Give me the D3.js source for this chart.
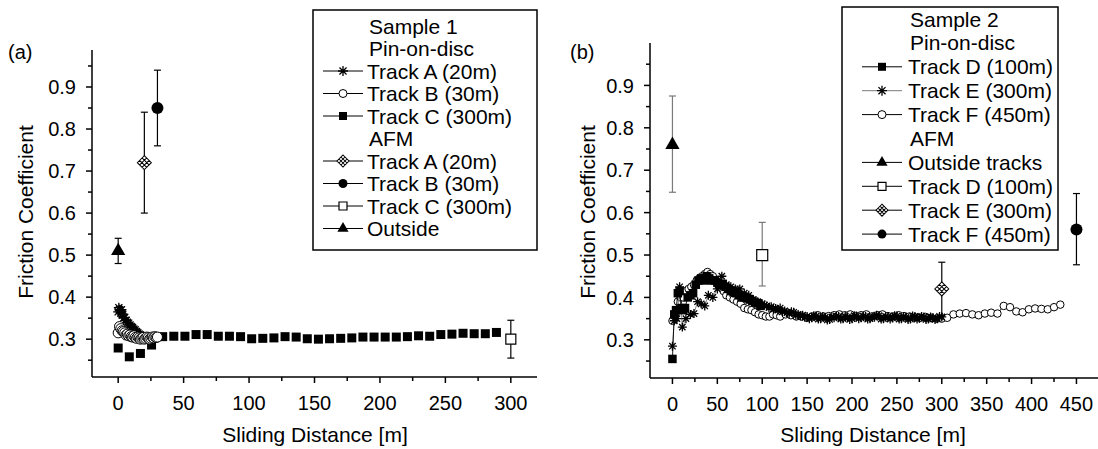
<!DOCTYPE html>
<html>
<head>
<meta charset="utf-8">
<script src="https://cdn.jsdelivr.net/npm/d3@7"></script>
<style>
  body { margin: 0; background: #fff; }
  svg { display: block; font-family: "Liberation Sans", Arial, Helvetica, sans-serif; }
  .axis path, .axis line { stroke: #000; stroke-width: 1.5; }
</style>
</head>
<body>
<svg id="chart" width="1098" height="449"></svg>
<script>
"use strict"

// ---- panel (a): sample 1 ----
const a_trackC_x = [0, 8.5, 17, 25.5, 34, 42.5, 51, 59.5, 68, 76.5, 85, 93.5, 102, 110.5, 119, 127.5, 136, 144.5, 153, 161.5, 170, 178.5, 187, 195.5, 204, 212.5, 221, 229.5, 238, 246.5, 255, 263.5, 272, 280.5, 289]
const a_trackC_y = [0.279, 0.258, 0.266, 0.286, 0.306, 0.307, 0.307, 0.311, 0.311, 0.307, 0.307, 0.306, 0.301, 0.302, 0.303, 0.306, 0.305, 0.301, 0.300, 0.301, 0.302, 0.303, 0.305, 0.305, 0.305, 0.305, 0.306, 0.308, 0.307, 0.311, 0.312, 0.314, 0.313, 0.313, 0.316]

const a_trackA_x = [0, 0.5, 1, 1.5, 2, 2.5, 3, 3.5, 4, 5, 6, 7, 8, 9, 10, 11, 12, 13, 14, 15, 16, 17, 18, 19, 20]
const a_trackA_y = [0.365, 0.375, 0.370, 0.368, 0.362, 0.370, 0.360, 0.358, 0.350, 0.352, 0.345, 0.340, 0.338, 0.334, 0.330, 0.328, 0.324, 0.322, 0.318, 0.315, 0.312, 0.310, 0.308, 0.306, 0.305]

const a_trackB_x = [0, 1, 2, 3, 4, 5, 6, 7, 8, 9, 10, 11, 12, 13, 14, 15, 16, 17, 18, 19, 20, 21, 22, 23, 24, 25, 26, 27, 28, 29, 30]
const a_trackB_y = [0.315, 0.330, 0.325, 0.320, 0.318, 0.315, 0.310, 0.312, 0.308, 0.310, 0.306, 0.305, 0.308, 0.304, 0.302, 0.305, 0.303, 0.300, 0.302, 0.304, 0.300, 0.302, 0.305, 0.303, 0.300, 0.302, 0.305, 0.303, 0.306, 0.304, 0.305]

// AFM points: x, mean, low, high
const a_afm_names = ["Track A (20m)", "Track B (30m)", "Track C (300m)", "Outside"]
const a_afm_x = [20, 30, 300, 0]
const a_afm_y = [0.72, 0.85, 0.30, 0.51]
const a_afm_lo = [0.60, 0.76, 0.255, 0.48]
const a_afm_hi = [0.84, 0.94, 0.345, 0.54]

// ---- panel (b): sample 2 ----
const b_trackD_x = [0, 2, 4, 6, 8, 10, 12, 14, 17, 20, 23, 26, 29, 32, 35, 38, 41, 44, 47, 50, 53, 56, 59, 62, 65, 68, 71, 74, 77, 80, 83, 86, 89, 92, 95, 98]
const b_trackD_y = [0.255, 0.360, 0.370, 0.410, 0.415, 0.375, 0.370, 0.375, 0.400, 0.405, 0.410, 0.430, 0.440, 0.445, 0.440, 0.450, 0.445, 0.440, 0.440, 0.435, 0.430, 0.432, 0.425, 0.420, 0.415, 0.412, 0.410, 0.405, 0.400, 0.400, 0.398, 0.395, 0.392, 0.388, 0.386, 0.380]

const b_trackE_x = [0, 2, 5, 8, 11, 15, 20, 24, 28, 32, 36, 40, 45, 50, 55, 60, 65, 70, 75, 80, 85, 90, 95,
  100, 102.5, 105, 107.5, 110, 112.5, 115, 117.5, 120, 122.5, 125, 127.5, 130, 132.5, 135, 137.5, 140, 142.5, 145, 147.5,
  150, 152.5, 155, 157.5, 160, 162.5, 165, 167.5, 170, 172.5, 175, 177.5, 180, 182.5, 185, 187.5, 190, 192.5, 195, 197.5,
  200, 202.5, 205, 207.5, 210, 212.5, 215, 217.5, 220, 222.5, 225, 227.5, 230, 232.5, 235, 237.5, 240, 242.5, 245, 247.5,
  250, 252.5, 255, 257.5, 260, 262.5, 265, 267.5, 270, 272.5, 275, 277.5, 280, 282.5, 285, 287.5, 290, 292.5, 295, 297.5, 300]
const b_trackE_y = [0.285, 0.345, 0.350, 0.425, 0.330, 0.350, 0.360, 0.362, 0.390, 0.385, 0.380, 0.405, 0.400, 0.420, 0.450, 0.430, 0.425, 0.420, 0.420, 0.410, 0.405, 0.395, 0.390,
  0.385, 0.382, 0.380, 0.376, 0.378, 0.372, 0.374, 0.370, 0.375, 0.366, 0.368, 0.364, 0.362, 0.366, 0.365, 0.358, 0.360, 0.356, 0.358, 0.353,
  0.355, 0.350, 0.352, 0.357, 0.356, 0.349, 0.350, 0.355, 0.353, 0.347, 0.348, 0.354, 0.352, 0.356, 0.355, 0.349, 0.350, 0.355, 0.354, 0.348,
  0.350, 0.357, 0.356, 0.350, 0.352, 0.356, 0.355, 0.349, 0.350, 0.354, 0.353, 0.358, 0.357, 0.349, 0.350, 0.355, 0.354, 0.349, 0.352, 0.357,
  0.356, 0.349, 0.350, 0.355, 0.353, 0.348, 0.349, 0.356, 0.355, 0.349, 0.351, 0.355, 0.354, 0.348, 0.349, 0.354, 0.352, 0.348, 0.350, 0.355, 0.354]

const b_trackF_x = [0, 3, 6, 9, 12, 15, 18, 21, 24, 27, 30, 33, 36, 39, 42, 45, 48, 51, 54, 57, 60, 64, 68, 72, 76, 80, 84, 88, 92, 96, 100, 104, 108, 112, 116, 120, 126, 132, 138, 144, 150, 156, 162, 168, 174, 180, 186, 192, 198, 204, 210, 216, 222, 228, 234, 240, 246, 252, 258, 264, 270, 276, 282, 288, 294, 300, 306, 313, 320, 327, 334, 341, 348, 355, 362, 369, 376, 383, 390, 397, 404, 411, 418, 425, 432]
const b_trackF_y = [0.345, 0.360, 0.390, 0.400, 0.400, 0.415, 0.420, 0.425, 0.430, 0.440, 0.445, 0.450, 0.455, 0.460, 0.455, 0.450, 0.440, 0.430, 0.425, 0.415, 0.405, 0.400, 0.395, 0.390, 0.385, 0.375, 0.372, 0.370, 0.365, 0.360, 0.358, 0.355, 0.355, 0.360, 0.358, 0.355, 0.360, 0.358, 0.355, 0.355, 0.352, 0.355, 0.358, 0.355, 0.356, 0.358, 0.360, 0.358, 0.360, 0.356, 0.358, 0.360, 0.355, 0.358, 0.360, 0.356, 0.355, 0.358, 0.356, 0.355, 0.353, 0.352, 0.354, 0.352, 0.350, 0.350, 0.352, 0.360, 0.362, 0.363, 0.360, 0.358, 0.362, 0.364, 0.362, 0.380, 0.377, 0.367, 0.365, 0.372, 0.374, 0.373, 0.372, 0.377, 0.383]

const b_afm_names = ["Outside tracks", "Track D (100m)", "Track E (300m)", "Track F (450m)"]
const b_afm_x = [0, 100, 300, 450]
const b_afm_y = [0.76, 0.50, 0.42, 0.56]
const b_afm_lo = [0.648, 0.427, 0.357, 0.477]
const b_afm_hi = [0.875, 0.577, 0.483, 0.645]

const yTicks = [0.3, 0.4, 0.5, 0.6, 0.7, 0.8, 0.9]
const yMinor = [0.25, 0.35, 0.45, 0.55, 0.65, 0.75, 0.85, 0.95]

const svg = d3.select("#chart")
const GREY = "#7a7a7a"

function zip(xs, ys) { return xs.map((x, i) => ({x: x, y: ys[i]})) }

// marker shapes
function asteriskPath(r) {
  const d = r * Math.SQRT1_2
  return `M${-r},0L${r},0M0,${-r}L0,${r}M${-d},${-d}L${d},${d}M${-d},${d}L${d},${-d}`
}
function latticeDiamond(r) {
  // square with a 3x3 grid, rotated 45deg when drawn
  const a = r * Math.SQRT1_2, t = a / 3
  return `M${-a},${-a}L${a},${-a}L${a},${a}L${-a},${a}Z` +
    `M${-t},${-a}L${-t},${a}M${t},${-a}L${t},${a}` +
    `M${-a},${-t}L${a},${-t}M${-a},${t}L${a},${t}`
}

function marker(g, kind, x, y, s) {
  let el
  let rot = ""
  if (kind === "square") {
    el = g.append("path").attr("d", d3.symbol(d3.symbolSquare, s * s)()).attr("fill", "#000")
  } else if (kind === "osquare") {
    el = g.append("path").attr("d", d3.symbol(d3.symbolSquare, s * s)()).attr("fill", "#fff").attr("stroke", "#000").attr("stroke-width", 1.2)
  } else if (kind === "circle") {
    el = g.append("circle").attr("r", s / 2).attr("fill", "#000")
  } else if (kind === "ocircle") {
    el = g.append("circle").attr("r", s / 2).attr("fill", "#fff").attr("stroke", "#000").attr("stroke-width", 1)
  } else if (kind === "triangle") {
    el = g.append("path").attr("d", d3.symbol(d3.symbolTriangle, s * s * 0.45)()).attr("fill", "#000")
  } else if (kind === "asterisk") {
    el = g.append("path").attr("d", asteriskPath(s / 2)).attr("fill", "none").attr("stroke", "#000").attr("stroke-width", 1.3)
  } else if (kind === "xdiamond") {
    el = g.append("path").attr("d", latticeDiamond(s / 2)).attr("fill", "#fff").attr("stroke", "#000").attr("stroke-width", 1)
    rot = " rotate(45)"
  }
  el.attr("transform", `translate(${x},${y})` + rot)
  return el
}

function drawAxes(g, x, y, xTicks, xMinor) {
  const xAxis = g.append("g").attr("class", "axis").attr("transform", `translate(0,${y.range()[0]})`)
  xAxis.append("line").attr("x1", x.range()[0]).attr("x2", x.range()[1])
  xAxis.selectAll(".maj").data(xTicks).enter().append("line")
    .attr("x1", d => x(d)).attr("x2", d => x(d)).attr("y1", 0).attr("y2", 6)
  xAxis.selectAll(".min").data(xMinor).enter().append("line")
    .attr("x1", d => x(d)).attr("x2", d => x(d)).attr("y1", 0).attr("y2", 4)
  xAxis.selectAll("text").data(xTicks).enter().append("text")
    .attr("x", d => x(d)).attr("y", 33).attr("text-anchor", "middle")
    .attr("font-size", 20).text(d => d)

  const yAxis = g.append("g").attr("class", "axis").attr("transform", `translate(${x.range()[0]},0)`)
  yAxis.append("line").attr("y1", y.range()[0]).attr("y2", y.range()[1])
  yAxis.selectAll(".maj").data(yTicks).enter().append("line")
    .attr("y1", d => y(d)).attr("y2", d => y(d)).attr("x1", 0).attr("x2", -6)
  yAxis.selectAll(".min").data(yMinor).enter().append("line")
    .attr("y1", d => y(d)).attr("y2", d => y(d)).attr("x1", 0).attr("x2", -4)
  yAxis.selectAll("text").data(yTicks).enter().append("text")
    .attr("x", -16).attr("y", d => y(d)).attr("dy", "0.36em").attr("text-anchor", "end")
    .attr("font-size", 20).text(d => d3.format(".1f")(d))
}

function series(g, x, y, data, kind, size, lineColor) {
  if (lineColor) {
    g.append("path").datum(data)
      .attr("d", d3.line().x(d => x(d.x)).y(d => y(d.y)))
      .attr("fill", "none").attr("stroke", lineColor).attr("stroke-width", 0.9)
  }
  data.forEach(d => marker(g, kind, x(d.x), y(d.y), size))
}

function errorBar(g, x, y, xv, lo, hi, color) {
  const eb = g.append("g").attr("stroke", color).attr("stroke-width", 1.2)
  eb.append("line").attr("x1", x(xv)).attr("x2", x(xv)).attr("y1", y(lo)).attr("y2", y(hi))
  eb.append("line").attr("x1", x(xv) - 3.5).attr("x2", x(xv) + 3.5).attr("y1", y(lo)).attr("y2", y(lo))
  eb.append("line").attr("x1", x(xv) - 3.5).attr("x2", x(xv) + 3.5).attr("y1", y(hi)).attr("y2", y(hi))
}

function legend(g, box, rows, rowY, lineX, textX) {
  g.append("rect").attr("x", box[0]).attr("y", box[1]).attr("width", box[2]).attr("height", box[3])
    .attr("fill", "#fff").attr("stroke", "#000").attr("stroke-width", 1.5)
  rows.forEach((r, i) => {
    const yy = rowY[0] + i * rowY[1]
    if (r.kind) {
      g.append("line").attr("x1", lineX[0]).attr("x2", lineX[1]).attr("y1", yy).attr("y2", yy)
        .attr("stroke", r.line || "#000").attr("stroke-width", 1)
      marker(g, r.kind, (lineX[0] + lineX[1]) / 2, yy, r.size)
    }
    g.append("text").attr("x", textX + (r.kind ? 0 : 2)).attr("y", yy).attr("dy", "0.36em")
      .attr("font-size", 21).text(r.label)
  })
}

// ---------- panel (a) ----------
const xa = d3.scaleLinear().domain([-20, 320]).range([92, 537])
const ya = d3.scaleLinear().domain([0.21, 0.988]).range([377, 50])
const ga = svg.append("g")
drawAxes(ga, xa, ya, d3.range(0, 301, 50), d3.range(25, 301, 50))

series(ga, xa, ya, zip(a_trackC_x, a_trackC_y), "square", 9, null)
series(ga, xa, ya, zip(a_trackA_x, a_trackA_y), "asterisk", 10, "#000")
series(ga, xa, ya, zip(a_trackB_x, a_trackB_y), "ocircle", 10, "#000")

const a_kinds = ["xdiamond", "circle", "osquare", "triangle"]
const a_sizes = [14, 12, 10, 14]
a_afm_x.forEach((xv, i) => {
  errorBar(ga, xa, ya, xv, a_afm_lo[i], a_afm_hi[i], "#000")
  marker(ga, a_kinds[i], xa(xv), ya(a_afm_y[i]), a_sizes[i])
})

ga.append("text").attr("x", 8).attr("y", 59).attr("font-size", 20).text("(a)")
ga.append("text").attr("transform", "translate(33,212) rotate(-90)").attr("text-anchor", "middle")
  .attr("font-size", 21).text("Friction Coefficient")
ga.append("text").attr("x", 315).attr("y", 442).attr("text-anchor", "middle")
  .attr("font-size", 21).text("Sliding Distance [m]")

legend(ga, [313, 10, 224, 240], [
  {label: "Sample 1"},
  {label: "Pin-on-disc"},
  {label: "Track A (20m)", kind: "asterisk", size: 10},
  {label: "Track B (30m)", kind: "ocircle", size: 8},
  {label: "Track C (300m)", kind: "square", size: 8},
  {label: "AFM"},
  {label: a_afm_names[0], kind: "xdiamond", size: 12},
  {label: a_afm_names[1], kind: "circle", size: 9},
  {label: a_afm_names[2], kind: "osquare", size: 8},
  {label: a_afm_names[3], kind: "triangle", size: 11}
], [26, 22.5], [323, 363], 367)

// ---------- panel (b) ----------
const xb = d3.scaleLinear().domain([-25, 474]).range([650, 1098])
const yb = d3.scaleLinear().domain([0.21, 1.0]).range([378, 43])
const gb = svg.append("g")
drawAxes(gb, xb, yb, d3.range(0, 451, 50), d3.range(25, 451, 50))

series(gb, xb, yb, zip(b_trackF_x, b_trackF_y), "ocircle", 7.5, "#000")
series(gb, xb, yb, zip(b_trackE_x, b_trackE_y), "asterisk", 9, GREY)
series(gb, xb, yb, zip(b_trackD_x, b_trackD_y), "square", 8.5, "#000")

const b_kinds = ["triangle", "osquare", "xdiamond", "circle"]
const b_sizes = [14, 11, 14, 12]
const b_err = [GREY, GREY, "#000", "#000"]
b_afm_x.forEach((xv, i) => {
  errorBar(gb, xb, yb, xv, b_afm_lo[i], b_afm_hi[i], b_err[i])
  marker(gb, b_kinds[i], xb(xv), yb(b_afm_y[i]), b_sizes[i])
})

gb.append("text").attr("x", 570).attr("y", 59).attr("font-size", 20).text("(b)")
gb.append("text").attr("transform", "translate(595,212) rotate(-90)").attr("text-anchor", "middle")
  .attr("font-size", 21).text("Friction Coefficient")
gb.append("text").attr("x", 873).attr("y", 442).attr("text-anchor", "middle")
  .attr("font-size", 21).text("Sliding Distance [m]")

legend(gb, [842, 7, 216, 243], [
  {label: "Sample 2"},
  {label: "Pin-on-disc"},
  {label: "Track D (100m)", kind: "square", size: 8},
  {label: "Track E (300m)", kind: "asterisk", size: 10, line: GREY},
  {label: "Track F (450m)", kind: "ocircle", size: 8},
  {label: "AFM"},
  {label: b_afm_names[0], kind: "triangle", size: 11},
  {label: b_afm_names[1], kind: "osquare", size: 8},
  {label: b_afm_names[2], kind: "xdiamond", size: 12},
  {label: b_afm_names[3], kind: "circle", size: 9}
], [19, 23.9], [862, 902], 908)
</script>
</body>
</html>
